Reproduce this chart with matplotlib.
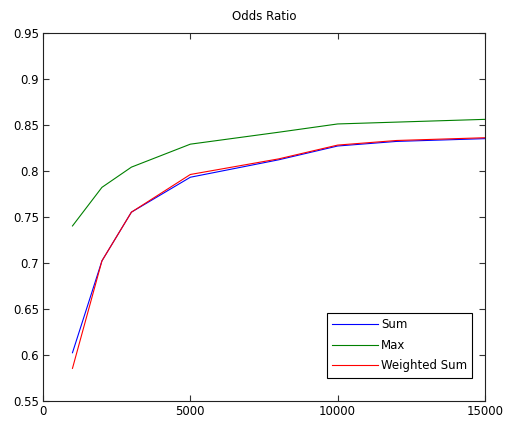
import matplotlib
matplotlib.use("Agg")
import matplotlib.pyplot as plt
from matplotlib.ticker import FixedLocator, FuncFormatter

# sample sizes and odds ratio per combination rule
n_samples = [1000, 2000, 3000, 5000, 8000, 10000, 12000, 15000]
sum_or = [0.602, 0.702, 0.755, 0.793, 0.812, 0.827, 0.832, 0.835]
max_or = [0.740, 0.782, 0.804, 0.829, 0.842, 0.851, 0.853, 0.856]
wsum_or = [0.585, 0.702, 0.755, 0.796, 0.813, 0.828, 0.833, 0.836]

x_ticks = [0, 5000, 10000, 15000]
y_ticks = [0.55, 0.6, 0.65, 0.7, 0.75, 0.8, 0.85, 0.9, 0.95]

plt.rcParams['font.family'] = ['DejaVu Sans']
fs = 8.5

fig = plt.figure(figsize=(5.06, 4.24), dpi=100)
ax = fig.add_axes([0.085, 0.0554, 0.8735, 0.8668])

ax.plot(n_samples, sum_or, color=(0, 0, 1), lw=0.8, label='Sum')
ax.plot(n_samples, max_or, color=(0, 0.5, 0), lw=0.8, label='Max')
ax.plot(n_samples, wsum_or, color=(1, 0, 0), lw=0.8, label='Weighted Sum')

ax.set_xlim(0, 15000)
ax.set_ylim(0.55, 0.95)
ax.xaxis.set_major_locator(FixedLocator(x_ticks))
ax.yaxis.set_major_locator(FixedLocator(y_ticks))
ax.yaxis.set_major_formatter(FuncFormatter(lambda v, p: ('%.2f' % v).rstrip('0')))
ax.xaxis.set_major_formatter(FuncFormatter(lambda v, p: '%d' % v))
ax.tick_params(direction='in', length=4, width=0.8, top=True, right=True,
               labelsize=fs, pad=3, color='#333333')
for s in ax.spines.values():
    s.set_linewidth(0.8)
    s.set_color('#222222')

ax.set_title('Odds Ratio', fontsize=fs, pad=9)

leg = ax.legend(loc='lower right', bbox_to_anchor=(472.3 / 506, 1 - 377.7 / 424),
                bbox_transform=fig.transFigure, borderaxespad=0, fontsize=fs,
                fancybox=False, framealpha=1, edgecolor='black',
                handlelength=3.9, handletextpad=0.25, labelspacing=0.65,
                borderpad=0.45)
leg.get_frame().set_linewidth(0.8)

fig.savefig('out.png', dpi=100)
